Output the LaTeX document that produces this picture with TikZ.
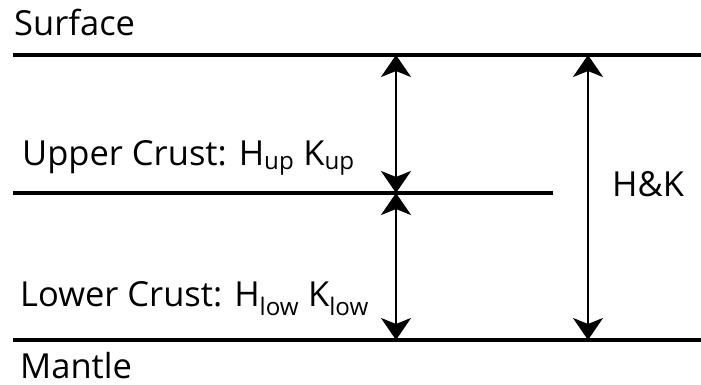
\documentclass[tikz,border=0pt]{standalone}
\usepackage{fontspec}
\setmainfont{Open Sans}
\usetikzlibrary{arrows.meta}
\tikzset{
  layer/.style={black, line width=4pt},
  depth/.style={black, line width=2.6pt, {Stealth[length=22pt,width=30pt,inset=6pt]}-{Stealth[length=22pt,width=30pt,inset=6pt]}},
  lbl/.style={anchor=base west, inner sep=0pt, font=\fontsize{34.5}{40}\selectfont}
}
\begin{document}
\begin{tikzpicture}[x=1pt,y=-1pt]
    \useasboundingbox (0,0) rectangle (701,385);
    \node[lbl] (surface) at (14,36) {Surface};
    \node[lbl] (upper) at (22,165) {Upper Crust: H\textsubscript{up} K\textsubscript{up}};
    \node[lbl] (lower) at (20,306) {Lower Crust: H\textsubscript{low} K\textsubscript{low}};
    \node[lbl] (mantle) at (20,378) {Mantle};
    \node[lbl] (hk) at (612,196) {H\&K};

    \coordinate (sl) at (13,55);
    \coordinate (sr) at (701,55);
    \coordinate (ml) at (13,193);
    \coordinate (mr) at (553,193);
    \coordinate (bl) at (13,340);
    \coordinate (br) at (701,340);
    \coordinate (a1) at (396,55);
    \coordinate (a2) at (396,193);
    \coordinate (a3) at (396,340);
    \coordinate (b1) at (588,55);
    \coordinate (b2) at (588,340);

    \draw [layer] (sl) -- (sr);
    \draw [layer] (ml) -- (mr);
    \draw [layer] (bl) -- (br);
    \draw [depth] (a1) -- (a2);
    \draw [depth] (a2) -- (a3);
    \draw [depth] (b1) -- (b2);
\end{tikzpicture}
\end{document}
